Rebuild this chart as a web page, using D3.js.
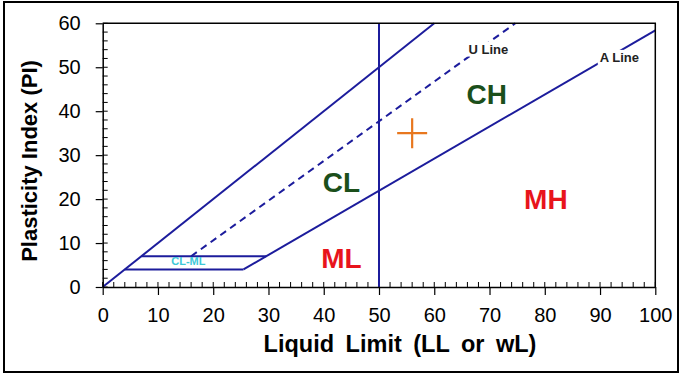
<!DOCTYPE html>
<html><head><meta charset="utf-8">
<script src="https://cdn.jsdelivr.net/npm/d3@7"></script>
<style>body{margin:0;background:#fff}svg{display:block}text{font-family:"Liberation Sans",Arial,sans-serif}</style>
</head><body><svg id="c" width="681" height="378"></svg>
<script>
const xTicks=[0,10,20,30,40,50,60,70,80,90,100];
const yTicks=[0,10,20,30,40,50,60];
const boundaryLine=[[0,0],[60,60]];
const uLine=[[16,7],[74.67,60]];
const aLine=[[25.48,4],[100,58.4]];
const clmlLower=[[4,4],[25.48,4]];
const clmlUpper=[[7,7],[29.59,7]];
const llLine=[[50,0],[50,60]];
const samplePoint=[56,35];
const zoneLabels=[
 {t:"CH",x:69.5,y:43.3,c:"#1b4f1b",s:28,bg:false},
 {t:"CL",x:43.2,y:23.3,c:"#1b4f1b",s:28,bg:false},
 {t:"MH",x:80.2,y:19.4,c:"#e8141c",s:28,bg:false},
 {t:"ML",x:43.2,y:6.1,c:"#e8141c",s:28,bg:false},
 {t:"CL-ML",x:15.5,y:5.6,c:"#3cc8d8",s:11,bg:false},
 {t:"U Line",x:69.8,y:53.9,c:"#222",s:13,bg:true},
 {t:"A Line",x:93.5,y:52.0,c:"#222",s:13,bg:true}
];
const svg=d3.select("#c");
svg.append("rect").attr("x",4).attr("y",2).attr("width",674).attr("height",370).attr("fill","#fff").attr("stroke","#000").attr("stroke-width",2);
const L=102.7,R=655.3,T=23.3,B=287;
const x=d3.scaleLinear().domain([0,100]).range([L,R]);
const y=d3.scaleLinear().domain([0,60]).range([B,T]);
const navy="#1c1c9c";
const xm=d3.range(0,101,2), ym=d3.range(0,61,2);
svg.append("g").selectAll("line").data(xm).join("line").attr("x1",d=>x(d)).attr("x2",d=>x(d)).attr("y1",B).attr("y2",B-5).attr("stroke","#000").attr("stroke-width",1);
svg.append("g").selectAll("line").data(ym).join("line").attr("y1",d=>y(d)).attr("y2",d=>y(d)).attr("x1",L).attr("x2",L+5).attr("stroke","#000").attr("stroke-width",1);
const line=d3.line().x(d=>x(d[0])).y(d=>y(d[1]));
[boundaryLine,aLine,clmlLower,clmlUpper,llLine].forEach(p=>svg.append("path").attr("d",line(p)).attr("fill","none").attr("stroke",navy).attr("stroke-width",2));
svg.append("path").attr("d",line(uLine)).attr("fill","none").attr("stroke",navy).attr("stroke-width",2).attr("stroke-dasharray","7,5");
const px=x(samplePoint[0]),py=y(samplePoint[1]);
svg.append("path").attr("d",`M${px-15},${py}H${px+15}M${px},${py-15}V${py+15}`).attr("stroke","#e8771e").attr("stroke-width",2.2);
const lg=svg.append("g").selectAll("g").data(zoneLabels).join("g");
const lt=lg.append("text").attr("x",d=>x(d.x)).attr("y",d=>y(d.y)).attr("text-anchor","middle").attr("dominant-baseline","middle").attr("font-weight","bold").attr("font-size",d=>d.s).attr("fill",d=>d.c).text(d=>d.t);
lt.each(function(d){ if(!d.bg) return; const b=this.getBBox(); d3.select(this.parentNode).insert("rect","text").attr("x",b.x-2).attr("y",b.y).attr("width",b.width+4).attr("height",b.height).attr("fill","#fff");});
svg.append("path").attr("d",`M${L},${T}H${R}V${B}`).attr("fill","none").attr("stroke","#000").attr("stroke-width",1.5);
const xa=svg.append("g").attr("transform",`translate(0,${B})`).call(d3.axisBottom(x).tickValues(xTicks).tickSize(8).tickSizeOuter(0).tickPadding(13));
const ya=svg.append("g").attr("transform",`translate(${L},0)`).call(d3.axisLeft(y).tickValues(yTicks).tickSize(7).tickSizeOuter(0).tickPadding(15));
[xa,ya].forEach(a=>{a.select(".domain").attr("stroke","#000").attr("stroke-width",1.5);a.selectAll(".tick line").attr("stroke","#000").attr("stroke-width",1.2);a.selectAll("text").attr("font-size",20).attr("fill","#000").attr("font-family","Liberation Sans, Arial, sans-serif");});
svg.append("text").attr("x",400).attr("y",352).attr("text-anchor","middle").attr("font-weight","bold").attr("font-size",23.5).attr("word-spacing",5).text("Liquid Limit (LL or wL)");
svg.append("text").attr("transform","translate(37,161) rotate(-90)").attr("text-anchor","middle").attr("font-weight","bold").attr("font-size",22).text("Plasticity Index (PI)");
</script></body></html>
